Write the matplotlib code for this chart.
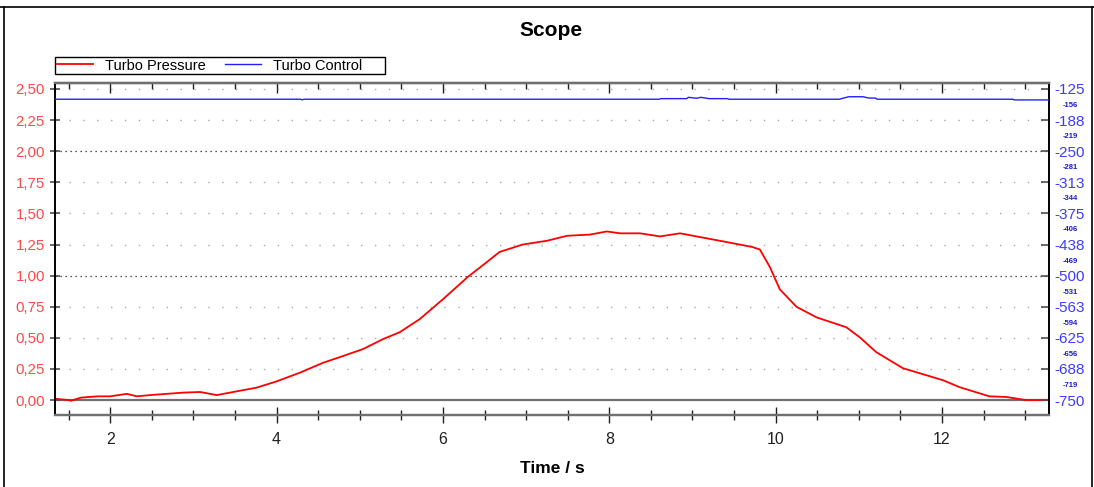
import matplotlib
matplotlib.use("Agg")
import matplotlib.pyplot as plt
from matplotlib.lines import Line2D
from matplotlib.patches import Rectangle
from matplotlib.ticker import FixedLocator, MultipleLocator

plt.rcParams['font.family'] = ['Liberation Sans', 'DejaVu Sans']

# turbo pressure trace (bar) vs time (s)
pressure_t = [1.34, 1.50, 1.53, 1.65, 1.85, 2.00, 2.20, 2.32, 2.48, 2.88, 3.08, 3.28, 3.52, 3.76,
              4.00, 4.28, 4.56, 4.76, 5.04, 5.28, 5.48, 5.72, 6.00, 6.30, 6.53, 6.68, 6.96,
              7.25, 7.49, 7.77, 7.97, 8.13, 8.37, 8.61, 8.85, 9.09, 9.41, 9.72, 9.81, 9.93,
              10.05, 10.25, 10.49, 10.85, 11.01, 11.21, 11.53, 11.81, 12.01, 12.21, 12.57,
              12.77, 13.01, 13.29]
pressure = [0.01, 0.00, -0.005, 0.02, 0.03, 0.03, 0.05, 0.03, 0.04, 0.06, 0.065, 0.04, 0.07, 0.10,
            0.15, 0.22, 0.30, 0.345, 0.41, 0.49, 0.545, 0.65, 0.81, 0.99, 1.11, 1.19, 1.25,
            1.28, 1.32, 1.33, 1.355, 1.34, 1.34, 1.315, 1.34, 1.31, 1.27, 1.23, 1.21, 1.07,
            0.89, 0.75, 0.665, 0.585, 0.505, 0.385, 0.256, 0.20, 0.16, 0.104, 0.03,
            0.025, 0.0, 0.0]

# turbo control signal
control_t = [1.34, 4.29, 4.31, 4.33, 8.60, 8.62, 8.93, 8.95, 9.05, 9.10, 9.20, 9.42, 9.44,
             10.77, 10.80, 10.88, 11.05, 11.12, 11.20, 11.22, 12.85, 12.87, 13.29]
control = [-145.6, -145.6, -146.8, -145.6, -145.6, -144.4, -144.4, -141.8, -143.6, -141.8, -144.4,
           -144.4, -145.6, -145.6, -144.0, -140.6, -140.6, -143.2, -143.2, -145.6, -145.6,
           -147.0, -147.0]

left_ticks = [0.0, 0.25, 0.5, 0.75, 1.0, 1.25, 1.5, 1.75, 2.0, 2.25, 2.5]
right_major = [-750, -687.5, -625, -562.5, -500, -437.5, -375, -312.5, -250, -187.5, -125]
right_major_labels = ['-750', '-688', '-625', '-563', '-500', '-438', '-375', '-313', '-250', '-188', '-125']
right_minor = [-718.75, -656.25, -593.75, -531.25, -468.75, -406.25, -343.75, -281.25, -218.75, -156.25]
right_minor_labels = ['-719', '-656', '-594', '-531', '-469', '-406', '-344', '-281', '-219', '-156']

W, H = 1094, 487
fig = plt.figure(figsize=(W / 100, H / 100), dpi=100)
ax = fig.add_axes([55.3 / W, 1 - 415 / H, 994 / W, 332 / H])

y0, y1 = -0.120, 2.548
ax.set_xlim(1.34, 13.29)
ax.set_ylim(y0, y1)

# horizontal grid: sparse grey dots, denser black ones at 1.00 and 2.00
for v in left_ticks:
    if v == 0.0:
        ax.axhline(v, color='#707070', lw=1.6, zorder=1)
    elif v in (1.0, 2.0):
        ax.axhline(v, color='#202020', lw=0.9, ls=(0, (1, 3)), zorder=1)
    else:
        ax.axhline(v, color='#a8a8a8', lw=1.0, ls=(0, (1, 9)), zorder=1)

l1, = ax.plot(pressure_t, pressure, color='#ff0000', lw=1.3, zorder=3, label='Turbo Pressure')

ax2 = ax.twinx()
ax2.set_ylim(-750 + 250 * y0, -750 + 250 * y1)
l2, = ax2.plot(control_t, control, color='#2020ff', lw=1.0, zorder=3, label='Turbo Control')

# left axis
ax.set_yticks(left_ticks)
ax.set_yticklabels([f'{v:.2f}'.replace('.', ',') for v in left_ticks])
ax.tick_params(axis='y', colors='#505050', labelcolor='#ff4848', labelsize=10.8,
               direction='inout', length=7, width=1.2, pad=4)

# x axis: ticks crossing the bottom spine, inward ticks on top
ax.xaxis.set_major_locator(MultipleLocator(2))
ax.xaxis.set_minor_locator(MultipleLocator(0.5))
ax.tick_params(axis='x', which='major', direction='inout', length=12, width=1.0,
               labelsize=11.5, colors='#202020', pad=6)
ax.tick_params(axis='x', which='minor', direction='inout', length=7, width=1.0,
               colors='#202020')
top = ax.secondary_xaxis('top')
top.xaxis.set_major_locator(MultipleLocator(2))
top.xaxis.set_minor_locator(MultipleLocator(0.5))
top.tick_params(which='major', direction='in', length=7, width=1.0, colors='#202020', labeltop=False)
top.tick_params(which='minor', direction='in', length=4, width=1.0, colors='#202020')
top.spines['top'].set_color('#707070')
top.spines['top'].set_linewidth(1.6)
ax.set_xlabel('Time / s', fontsize=12.5, fontweight='bold', labelpad=10)

# right axis with large and small labels
ax2.yaxis.set_major_locator(FixedLocator(right_major))
ax2.set_yticklabels(right_major_labels)
ax2.yaxis.set_minor_locator(FixedLocator(right_minor))
ax2.set_yticklabels(right_minor_labels, minor=True)
ax2.tick_params(axis='y', which='major', direction='in', length=6, width=1.2,
                colors='#505050', labelcolor='#3c3cff', labelsize=11, pad=4)
ax2.tick_params(axis='y', which='minor', length=0, labelcolor='#1a1acc', labelsize=5.5, pad=10)
for lab in ax2.get_yticklabels(minor=True):
    lab.set_fontweight('bold')

for a in (ax, ax2):
    a.spines['left'].set_color('black')
    a.spines['right'].set_color('black')
    a.spines['top'].set_color('#707070')
    a.spines['bottom'].set_color('#707070')
    a.spines['top'].set_linewidth(1.6)
    a.spines['bottom'].set_linewidth(1.6)
    a.spines['left'].set_linewidth(1.2)
    a.spines['right'].set_linewidth(1.2)

fig.text(551 / W, 1 - 31 / H, 'Scope', fontsize=15, fontweight='bold', ha='center', va='center')

# legend box above the plot
fig.add_artist(Rectangle((55 / W, 1 - 74 / H), 330 / W, 17 / H, transform=fig.transFigure,
                         facecolor='white', edgecolor='black', lw=1.0))
leg = fig.legend(handles=[l1, l2], loc='center left', bbox_to_anchor=(57 / W, 1 - 65.5 / H), ncol=2,
                 fontsize=10.5, frameon=False, handlelength=2.5, handletextpad=0.8,
                 columnspacing=1.3, borderpad=0, borderaxespad=0)

# window frame
fig.add_artist(Line2D([0, 1], [1 - 7 / H] * 2, color='black', lw=1.2, transform=fig.transFigure))
fig.add_artist(Line2D([4 / W] * 2, [0, 1 - 7 / H], color='black', lw=1.2, transform=fig.transFigure))
fig.add_artist(Line2D([1092 / W] * 2, [0, 1 - 7 / H], color='black', lw=1.2, transform=fig.transFigure))

fig.savefig('out.png', dpi=100)
